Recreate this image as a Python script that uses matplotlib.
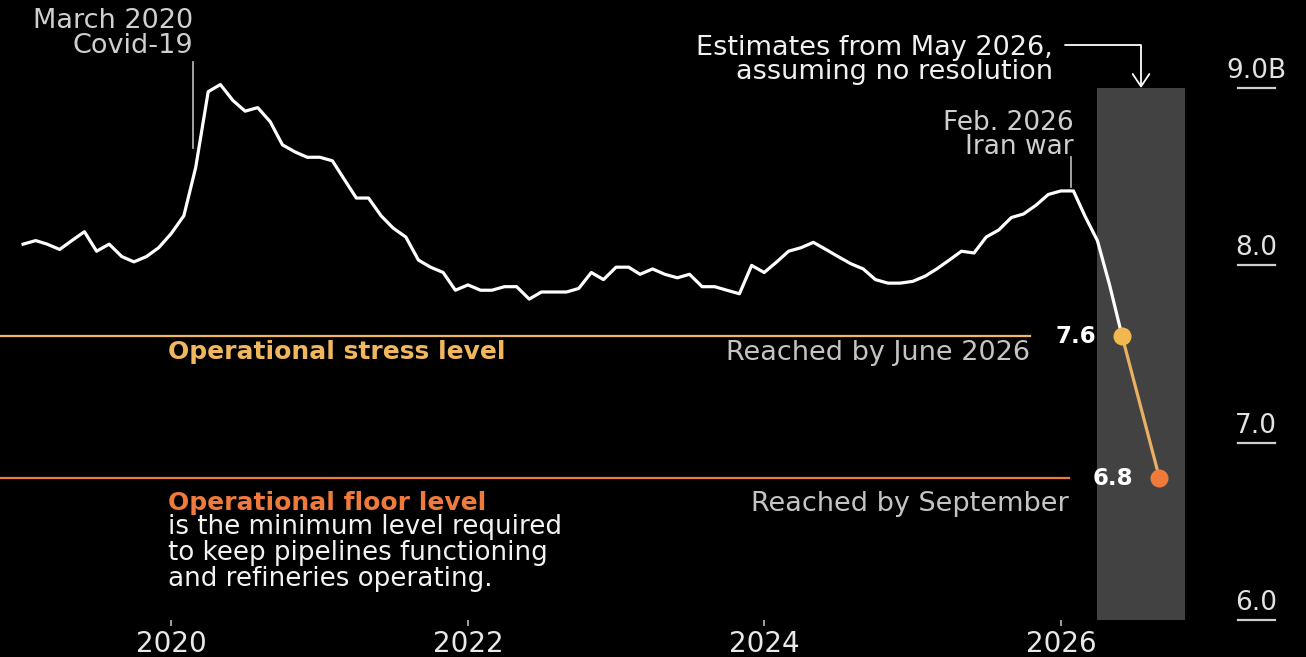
import pandas as pd
import matplotlib
matplotlib.use('Agg')
import matplotlib.pyplot as plt

# monthly stock level (billions), Jan 2019 - May 2026
stock = [8.12, 8.14, 8.12, 8.09, 8.14, 8.19, 8.08, 8.12, 8.05, 8.02, 8.05, 8.10,
         8.18, 8.28, 8.55, 8.98, 9.02, 8.93, 8.87, 8.89, 8.81, 8.68, 8.64, 8.61,
         8.61, 8.59, 8.49, 8.38, 8.38, 8.28, 8.21, 8.16, 8.03, 7.99, 7.96, 7.86,
         7.89, 7.86, 7.86, 7.88, 7.88, 7.81, 7.85, 7.85, 7.85, 7.87, 7.96, 7.92,
         7.99, 7.99, 7.95, 7.98, 7.95, 7.93, 7.95, 7.88, 7.88, 7.86, 7.84, 8.00,
         7.96, 8.02, 8.08, 8.10, 8.13, 8.09, 8.05, 8.01, 7.98, 7.92, 7.90, 7.90,
         7.91, 7.94, 7.98, 8.03, 8.08, 8.07, 8.16, 8.20, 8.27, 8.29, 8.34, 8.40,
         8.42, 8.42, 8.28, 8.14, 7.89]
months = pd.date_range('2019-01-01', periods=len(stock), freq='MS')

proj_months = pd.to_datetime(['2026-06-01', '2026-09-01'])
proj_values = [7.6, 6.8]
proj_labels = ['7.6', '6.8']

stress_level = 7.6
floor_level = 6.8

year_ticks = [2020, 2022, 2024, 2026]
y_ticks = [6.0, 7.0, 8.0, 9.0]
y_labels = ['6.0', '7.0', '8.0', '9.0B']

STRESS = '#f0b75e'
FLOOR = '#ee7a3c'
BAND = '#424242'
GRAY_TXT = '#cfcfcf'

fig = plt.figure(figsize=(13.06, 6.57), dpi=100, facecolor='black')
ax = fig.add_axes([0, 37 / 657, 1, 620 / 657])
ax.set_facecolor('black')
x_left, x_right = pd.Timestamp('2018-11-05'), pd.Timestamp('2027-08-28')
ax.set_xlim(x_left, x_right)
ax.set_ylim(6.0, 9.497)
for s in ax.spines.values():
    s.set_visible(False)

# estimate band
band_start, band_end = pd.Timestamp('2026-03-31'), pd.Timestamp('2026-11-03')
ax.fill_between([band_start, band_end], 6.0, 9.0, color=BAND, lw=0, zorder=0)

# threshold lines
stress_end = pd.Timestamp('2025-10-18')
floor_end = pd.Timestamp('2026-01-20')
ax.plot([x_left, stress_end], [stress_level] * 2, color=STRESS, lw=1.6, zorder=1)
ax.plot([x_left, floor_end], [floor_level] * 2, color=FLOOR, lw=1.6, zorder=1)

# main line + projection
ax.plot(list(months) + [proj_months[0]], stock + [proj_values[0]],
        color='white', lw=2.3, zorder=3)
ax.plot(proj_months, proj_values, color='#e9b062', lw=2.3, zorder=3)
ax.plot(proj_months[0], proj_values[0], 'o', ms=13, color='#f1b84f', mec='none', zorder=4)
ax.plot(proj_months[1], proj_values[1], 'o', ms=13, color='#ef7a3a', mec='none', zorder=4)
for m, v, lab in zip(proj_months, proj_values, proj_labels):
    ax.annotate(lab, xy=(m, v), xytext=(-19, 0), textcoords='offset points',
                ha='right', va='center', fontsize=16.5, fontweight='bold', color='white')

# event markers
covid = pd.Timestamp('2020-02-24')
ax.plot([covid, covid], [8.66, 9.15], color='#bdbdbd', lw=1.2)
ax.text(covid, 9.45, 'March 2020\nCovid-19', ha='right', va='top', fontsize=19.5,
        color=GRAY_TXT, linespacing=0.92)
war = pd.Timestamp('2026-01-26')
ax.plot([war, war], [8.44, 8.61], color='#bdbdbd', lw=1.2)
ax.text(pd.Timestamp('2026-02-01'), 8.874, 'Feb. 2026\nIran war', ha='right', va='top',
        fontsize=19, color=GRAY_TXT, linespacing=0.9)

# estimates note + arrow
ax.text(pd.Timestamp('2025-12-12'), 9.297, 'Estimates from May 2026,\nassuming no resolution',
        ha='right', va='top', fontsize=19.5, color='#f0f0f0', linespacing=0.9)
band_mid = band_start + (band_end - band_start) / 2
ax.annotate('', xy=(band_mid, 9.0), xytext=(pd.Timestamp('2026-01-12'), 9.246),
            arrowprops=dict(arrowstyle='->,head_length=0.45,head_width=0.3',
                            connectionstyle='angle,angleA=0,angleB=90,rad=0',
                            color='white', lw=1.3, shrinkA=0, shrinkB=0,
                            mutation_scale=20))

# threshold labels
label_x = pd.Timestamp('2019-12-25')
ax.annotate('Operational stress level', xy=(label_x, stress_level), xytext=(0, -3),
            textcoords='offset points', ha='left', va='top', fontsize=18,
            fontweight='bold', color=STRESS)
ax.annotate('Reached by June 2026', xy=(stress_end, stress_level), xytext=(0, -3),
            textcoords='offset points', ha='right', va='top', fontsize=19.5, color='#c4c4c4')
ax.annotate('Operational floor level', xy=(label_x, floor_level), xytext=(0, -9),
            textcoords='offset points', ha='left', va='top', fontsize=18,
            fontweight='bold', color=FLOOR)
ax.annotate('is the minimum level required\nto keep pipelines functioning\nand refineries operating.',
            xy=(label_x, floor_level), xytext=(0, -26), textcoords='offset points',
            ha='left', va='top', fontsize=18.8, color='#f2f2f2', linespacing=1.0)
ax.annotate('Reached by September', xy=(floor_end, floor_level), xytext=(0, -9),
            textcoords='offset points', ha='right', va='top', fontsize=19.5, color='#c4c4c4')

# right-side value axis labels
ytr = ax.get_yaxis_transform()
for v, lab in zip(y_ticks, y_labels):
    ax.plot([0.948, 0.976], [v, v], transform=ytr, color='#cfcfcf', lw=1.6, clip_on=False)
    ax.annotate(lab, xy=(0.962, v), xycoords=ytr, xytext=(0, 3), textcoords='offset points',
                ha='center', va='bottom', fontsize=19, color='#e2e2e2')
ax.set_yticks([])

ax.set_xticks([pd.Timestamp(f'{y}-01-01') for y in year_ticks])
ax.set_xticklabels([str(y) for y in year_ticks])
ax.tick_params(axis='x', length=4.5, width=1.2, color='#bbbbbb', pad=3,
               labelsize=20, labelcolor='#e8e8e8')

fig.savefig('out.png', dpi=100, facecolor='black')
